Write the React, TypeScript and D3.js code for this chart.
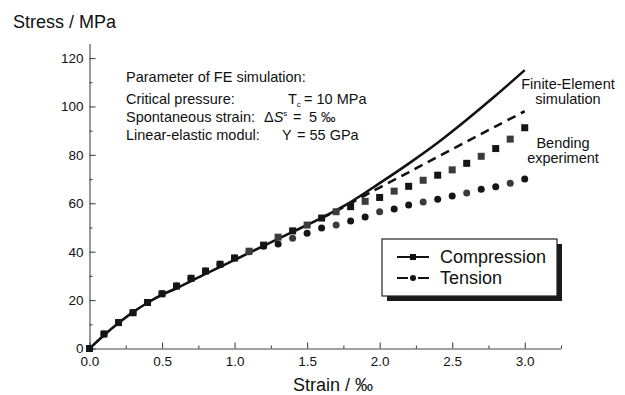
import { useEffect, useRef } from 'react';
import * as d3 from 'd3';

// bending experiment, strain in per mille
const strain = [0, 0.1, 0.2, 0.3, 0.4, 0.5, 0.6, 0.7, 0.8, 0.9, 1.0, 1.1, 1.2, 1.3, 1.4, 1.5, 1.6, 1.7, 1.8, 1.9, 2.0, 2.1, 2.2, 2.3, 2.4, 2.5, 2.6, 2.7, 2.8, 2.9, 3.0];
const compression = [0, 6, 10.7, 14.8, 19, 22.6, 25.8, 29, 32, 34.8, 37.4, 40.2, 42.7, 46, 48.6, 51, 53.9, 56.5, 58.6, 60.8, 62.4, 65, 67, 69.5, 71.6, 73.8, 76.5, 79.4, 82.6, 86.5, 91.2];
const tension = [0, 6, 10.7, 14.8, 19, 22.6, 25.8, 29, 32, 34.8, 37.4, 40, 42.2, 43.2, 45.5, 47.6, 49.8, 51, 52.7, 54.3, 56.5, 57.6, 59.3, 60.5, 61.7, 63, 64.2, 65.8, 66.8, 68.3, 70];

// FE simulation curves
const feCompStrain = [0, 0.1, 0.2, 0.3, 0.4, 0.5, 0.6, 0.8, 1.0, 1.2, 1.4, 1.6, 1.8, 2.0, 2.2, 2.4, 2.6, 2.8, 3.0];
const feCompStress = [0, 5.5, 10.5, 15, 18.9, 22.2, 24.9, 30.8, 36.6, 42.4, 48.2, 54, 60.5, 68.3, 76.4, 85, 94.5, 104.5, 115];
const feTensStrain = [1.6, 1.7, 1.8, 1.9, 2.0, 2.2, 2.4, 2.6, 2.8, 3.0];
const feTensStress = [53.9, 56.8, 60, 63.3, 66.5, 72.8, 79.2, 85.5, 91.8, 98];

const xTicks = [0, 0.5, 1.0, 1.5, 2.0, 2.5, 3.0];
const xMinor = [0.25, 0.75, 1.25, 1.75, 2.25, 2.75, 3.25];
const yTicks = [0, 20, 40, 60, 80, 100, 120];
const yMinor = [10, 30, 50, 70, 90, 110];

const font = 'Liberation Sans, Arial, Helvetica, sans-serif';

export default function App() {
    const svgRef = useRef<SVGSVGElement>(null);

    useEffect(() => {
        const svg = d3.select(svgRef.current);
        svg.selectAll('*').remove();

        const x = d3.scaleLinear().domain([0, 3.25]).range([89.5, 561]);
        const y = d3.scaleLinear().domain([0, 126]).range([348.5, 43.5]);

        // axes with inward ticks
        const xAxis = svg.append('g').attr('transform', `translate(0,${y(0)})`);
        xAxis.call(d3.axisBottom(x).tickValues(xTicks).tickSizeInner(-6).tickSizeOuter(0).tickPadding(8).tickFormat(d3.format('.1f')));
        const xMin = svg.append('g').attr('transform', `translate(0,${y(0)})`);
        xMin.call(d3.axisBottom(x).tickValues(xMinor).tickSizeInner(-3).tickSizeOuter(0).tickFormat(() => ''));
        xMin.select('.domain').remove();

        const yAxis = svg.append('g').attr('transform', `translate(${x(0)},0)`);
        yAxis.call(d3.axisLeft(y).tickValues(yTicks).tickSizeInner(-6).tickSizeOuter(0).tickPadding(6));
        const yMin = svg.append('g').attr('transform', `translate(${x(0)},0)`);
        yMin.call(d3.axisLeft(y).tickValues(yMinor).tickSizeInner(-3).tickSizeOuter(0).tickFormat(() => ''));
        yMin.select('.domain').remove();

        svg.selectAll('.domain, .tick line').attr('stroke', '#444').attr('stroke-width', 1.1);
        svg.selectAll('.tick text').attr('fill', '#111').style('font-size', '13.5px').style('font-family', font);

        // FE simulation lines
        const line = d3.line<[number, number]>().x(d => x(d[0])).y(d => y(d[1])).curve(d3.curveCatmullRom);
        svg.append('path')
            .attr('d', line(feCompStrain.map((s, i) => [s, feCompStress[i]])))
            .attr('fill', 'none').attr('stroke', '#111').attr('stroke-width', 2.6);
        svg.append('path')
            .attr('d', line(feTensStrain.map((s, i) => [s, feTensStress[i]])))
            .attr('fill', 'none').attr('stroke', '#111').attr('stroke-width', 2.6)
            .attr('stroke-dasharray', '9,6');

        // experiment markers
        svg.append('g').selectAll('circle')
            .data(strain)
            .enter().append('circle')
            .attr('cx', d => x(d))
            .attr('cy', (d, i) => y(tension[i]))
            .attr('r', 3.5)
            .attr('fill', (d, i) => (i % 3 === 2 ? '#3a3a3a' : '#151515'));
        svg.append('g').selectAll('rect')
            .data(strain)
            .enter().append('rect')
            .attr('x', d => x(d) - 3.5)
            .attr('y', (d, i) => y(compression[i]) - 3.5)
            .attr('width', 7)
            .attr('height', 7)
            .attr('fill', (d, i) => (i > 10 && i % 2 === 1 ? '#3c3c3c' : '#151515'));

        // axis titles
        svg.append('text').attr('x', 13).attr('y', 28).text('Stress / MPa')
            .style('font-size', '18px');
        svg.append('text').attr('x', 293).attr('y', 391).text('Strain / ‰')
            .style('font-size', '18px');

        // parameter block
        const note = svg.append('g').style('font-size', '14.5px');
        note.append('text').attr('x', 126).attr('y', 82).text('Parameter of FE simulation:');
        note.append('text').attr('x', 126).attr('y', 104).text('Critical pressure:');
        note.append('text').attr('x', 126).attr('y', 122).text('Spontaneous strain:');
        note.append('text').attr('x', 126).attr('y', 140).text('Linear-elastic modul:');

        const t1 = note.append('text').attr('x', 288).attr('y', 104);
        t1.append('tspan').text('T');
        t1.append('tspan').attr('dy', 3).style('font-size', '8px').text('c');
        note.append('text').attr('x', 304).attr('y', 104).text('= 10 MPa');

        const t2 = note.append('text').attr('x', 264).attr('y', 122);
        t2.append('tspan').text('Δ');
        t2.append('tspan').style('font-style', 'italic').text('S');
        t2.append('tspan').attr('dy', -6).style('font-size', '8px').text('s');
        note.append('text').attr('x', 293).attr('y', 122).text('=');
        note.append('text').attr('x', 309).attr('y', 122).text('5 ‰');

        note.append('text').attr('x', 282).attr('y', 140).text('Y');
        note.append('text').attr('x', 297).attr('y', 140).text('= 55 GPa');

        // curve labels
        const lab = svg.append('g').style('font-size', '14.5px').attr('text-anchor', 'middle');
        lab.append('text').attr('x', 568).attr('y', 89).text('Finite-Element');
        lab.append('text').attr('x', 568).attr('y', 104).text('simulation');
        lab.append('text').attr('x', 563).attr('y', 148).text('Bending');
        lab.append('text').attr('x', 563).attr('y', 163).text('experiment');

        // legend
        const lg = svg.append('g');
        lg.append('rect').attr('x', 387).attr('y', 244).attr('width', 175).attr('height', 57).attr('fill', '#1a1a1a');
        lg.append('rect').attr('x', 382).attr('y', 239).attr('width', 175).attr('height', 57)
            .attr('fill', '#fff').attr('stroke', '#222').attr('stroke-width', 1.2);
        lg.append('line').attr('x1', 397).attr('x2', 429).attr('y1', 257).attr('y2', 257)
            .attr('stroke', '#111').attr('stroke-width', 2);
        lg.append('rect').attr('x', 410).attr('y', 254).attr('width', 6).attr('height', 6).attr('fill', '#111');
        lg.append('line').attr('x1', 397).attr('x2', 429).attr('y1', 278).attr('y2', 278)
            .attr('stroke', '#111').attr('stroke-width', 2).attr('stroke-dasharray', '11,10');
        lg.append('circle').attr('cx', 413).attr('cy', 278).attr('r', 3).attr('fill', '#111');
        lg.append('text').attr('x', 440).attr('y', 263).text('Compression').style('font-size', '18px');
        lg.append('text').attr('x', 440).attr('y', 284).text('Tension').style('font-size', '18px');
    }, []);

    return (
        <svg
            ref={svgRef}
            width={625}
            height={395}
            style={{ position: 'absolute', left: 0, top: 0, background: '#fff', fontFamily: font, fill: '#111' }}
        />
    );
}
